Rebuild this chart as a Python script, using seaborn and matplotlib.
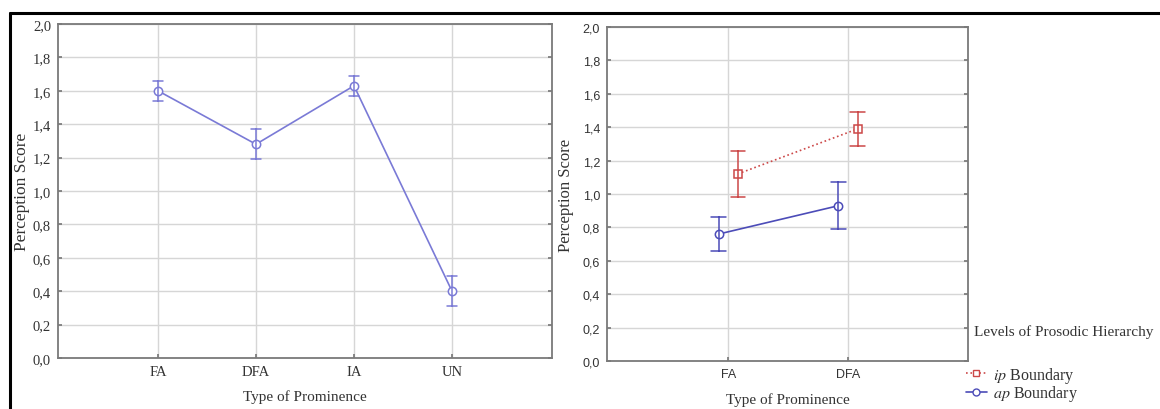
import matplotlib
matplotlib.use("Agg")
import matplotlib.pyplot as plt
from matplotlib.lines import Line2D
import seaborn as sns
import pandas as pd

# ---- data ----
left_cats = ["FA", "DFA", "IA", "UN"]
left_mean = [1.60, 1.28, 1.63, 0.40]
left_lo = [1.54, 1.19, 1.57, 0.31]
left_hi = [1.66, 1.37, 1.69, 0.49]

right_cats = ["FA", "DFA"]
levels = ["ap", "ip"]
ap_mean = [0.76, 0.93]
ap_lo = [0.66, 0.79]
ap_hi = [0.86, 1.07]
ip_mean = [1.12, 1.39]
ip_lo = [0.98, 1.29]
ip_hi = [1.26, 1.49]

yticks = [0.0, 0.2, 0.4, 0.6, 0.8, 1.0, 1.2, 1.4, 1.6, 1.8, 2.0]
ytick_labels = [f"{v:.1f}".replace(".", ",") for v in yticks]

# long tables: lo / mean / hi per category -> median = mean, 100% interval = lo..hi
rows = []
for c, m, lo, hi in zip(left_cats, left_mean, left_lo, left_hi):
    for v in (lo, m, hi):
        rows.append({"cat": c, "val": v})
df_left = pd.DataFrame(rows)

rows = []
for lvl, means, los, his in (("ap", ap_mean, ap_lo, ap_hi), ("ip", ip_mean, ip_lo, ip_hi)):
    for c, m, lo, hi in zip(right_cats, means, los, his):
        for v in (lo, m, hi):
            rows.append({"cat": c, "val": v, "level": lvl})
df_right = pd.DataFrame(rows)

sns.set_theme(style="white")
plt.rcParams["font.family"] = ["Liberation Serif", "DejaVu Serif"]
plt.rcParams["mathtext.fontset"] = "stix"

fig = plt.figure(figsize=(11.6, 4.1), dpi=100)
ax1 = fig.add_axes([58 / 1160, 1 - 359 / 410, 494 / 1160, 334 / 410])
ax2 = fig.add_axes([607 / 1160, 1 - 362 / 410, 361 / 1160, 334 / 410])

c_left = "#7a7ad6"
c_blue = "#4c4cb8"
c_red = "#cc4848"

sns.pointplot(data=df_left, x="cat", y="val", order=left_cats, estimator="median",
              errorbar=("pi", 100), color=c_left, marker="o", markersize=6,
              markerfacecolor="white", markeredgewidth=1.1, linewidth=1.2,
              capsize=0.11, err_kws={"linewidth": 1.1}, ax=ax1)

sns.pointplot(data=df_right, x="cat", y="val", hue="level", order=right_cats,
              hue_order=levels, estimator="median", errorbar=("pi", 100),
              palette={"ap": c_blue, "ip": c_red}, markers=["o", "s"],
              linestyles=["-", ":"], markersize=6, markerfacecolor="white",
              markeredgewidth=1.1, linewidth=1.2, capsize=0.12,
              err_kws={"linewidth": 1.1}, dodge=0.16, ax=ax2, legend=False)

for ax, xl in ((ax1, (-1.02, 4.02)), (ax2, (-1.01, 2.0))):
    ax.set_xlim(*xl)
    ax.set_ylim(0, 2.0)
    ax.set_yticks(yticks)
    ax.set_yticklabels(ytick_labels)
    ax.grid(True, color="#d6d6d6", linewidth=1.0)
    ax.set_axisbelow(True)
    for s in ax.spines.values():
        s.set_color("#7a7a7a")
        s.set_linewidth(1.3)
    ax.tick_params(axis="both", direction="in", length=3, color="#7a7a7a",
                   pad=5, right=True, left=True, bottom=True)
    ax.set_xlabel("Type of Prominence", fontsize=11, color="#333333", labelpad=6)

ax1.set_ylabel("Perception Score", fontsize=12.5, color="#333333")
ax2.set_ylabel("Perception Score", fontsize=12, color="#333333")
ax1.yaxis.set_label_coords((30 - 58) / 494, 0.5)
ax2.yaxis.set_label_coords((574 - 607) / 361, 0.5)

for lab in ax1.get_xticklabels() + ax1.get_yticklabels():
    lab.set_fontsize(10.5)
    lab.set_color("#333333")
for lab in ax2.get_xticklabels() + ax2.get_yticklabels():
    lab.set_family(["Liberation Sans", "DejaVu Sans"])
    lab.set_fontsize(9)
    lab.set_color("#333333")
ax1.xaxis.labelpad = 8
ax2.xaxis.labelpad = 9

# legend
fig.text(974 / 1160, 1 - 332 / 410, "Levels of Prosodic Hierarchy", fontsize=11,
         color="#333333", va="center", ha="left")
handles = [
    Line2D([], [], color=c_red, linestyle=":", marker="s", markersize=5,
           markerfacecolor="white", linewidth=1.2),
    Line2D([], [], color=c_blue, linestyle="-", marker="o", markersize=5,
           markerfacecolor="white", linewidth=1.2),
]
fig.legend(handles, [r"$\it{ip}$ Boundary", r"$\it{ap}$ Boundary"],
           loc="upper left", bbox_to_anchor=(958 / 1160, 1 - 358 / 410),
           frameon=False, fontsize=11.5, handlelength=1.3, handletextpad=0.4,
           labelspacing=-0.1, borderpad=0, labelcolor="#333333")

# frame lines of the reference image
fig.add_artist(Line2D([10 / 1160, 1.0], [1 - 14 / 410, 1 - 14 / 410],
                      transform=fig.transFigure, color="black", linewidth=2.2))
fig.add_artist(Line2D([10 / 1160, 10 / 1160], [1 - 14 / 410, 0.0],
                      transform=fig.transFigure, color="black", linewidth=2.2))

fig.savefig("out.png", dpi=100)
